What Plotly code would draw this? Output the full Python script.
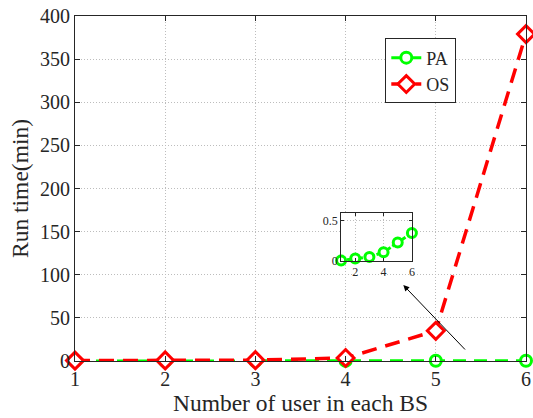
import plotly.graph_objects as go

users = [1, 2, 3, 4, 5, 6]
pa_time = [0.005, 0.03, 0.05, 0.11, 0.23, 0.35]
os_time = [0.5, 0.7, 1.0, 3.5, 35, 379]

x_ticks = [1, 2, 3, 4, 5, 6]
y_ticks = [0, 50, 100, 150, 200, 250, 300, 350, 400]
inset_x_ticks = [2, 4, 6]
inset_y_ticks = [0, 0.5]

FONT = "Liberation Serif"
GREEN = "#00ff00"
RED = "#ff0000"
AX = "#262626"
GRID = "#bdbdbd"

fig = go.Figure()
fig.add_trace(go.Scatter(
    x=users, y=pa_time, name="PA", mode="lines+markers",
    line=dict(color=GREEN, width=3, dash="13px,8px"),
    marker=dict(symbol="circle", size=11, color="white", line=dict(width=3, color=GREEN)),
    cliponaxis=False,
))
fig.add_trace(go.Scatter(
    x=users, y=os_time, name="OS", mode="lines+markers",
    line=dict(color=RED, width=3.5, dash="15px,9px"),
    marker=dict(symbol="diamond", size=13, color="white", line=dict(width=3, color=RED)),
    cliponaxis=False,
))
# inset
fig.add_trace(go.Scatter(
    x=users, y=pa_time, mode="lines+markers", showlegend=False,
    xaxis="x2", yaxis="y2",
    line=dict(color=GREEN, width=3, dash="4px,2px"),
    marker=dict(symbol="circle", size=9, color="white", line=dict(width=3, color=GREEN)),
    cliponaxis=False,
))

axis_common = dict(
    showline=True, linecolor=AX, linewidth=1, mirror="ticks",
    ticks="inside", ticklen=5, tickcolor=AX,
    showgrid=True, gridcolor=GRID, griddash="1px,2px", gridwidth=1,
    zeroline=False, automargin=False,
    tickfont=dict(family=FONT, size=20, color=AX),
)
inset_common = dict(
    showline=True, linecolor=AX, linewidth=1, mirror="ticks",
    ticks="inside", ticklen=3, tickcolor=AX,
    showgrid=True, gridcolor=GRID, griddash="1px,2px", zeroline=False,
    automargin=False,
    tickfont=dict(family=FONT, size=12, color=AX),
)

fig.update_layout(
    width=533, height=418,
    margin=dict(l=75, r=7, t=16, b=57),
    paper_bgcolor="white", plot_bgcolor="white",
    font=dict(family=FONT, color=AX),
    xaxis=dict(range=[1, 6], tickvals=x_ticks, domain=[0, 1],
               title=dict(text="Number of user in each BS", font=dict(family=FONT, size=23.5), standoff=4),
               **axis_common),
    yaxis=dict(range=[0, 400], tickvals=y_ticks, domain=[0, 1],
               title=dict(text="Run time(min)", font=dict(family=FONT, size=23.5), standoff=4),
               **axis_common),
    xaxis2=dict(range=[1, 6], tickvals=inset_x_ticks, domain=[0.59, 0.747], anchor="y2",
                **inset_common),
    yaxis2=dict(range=[0, 0.6], tickvals=inset_y_ticks, domain=[0.29, 0.429], anchor="x2",
                **inset_common),
    legend=dict(x=0.688, y=0.935, xanchor="left", yanchor="top",
                bgcolor="white", bordercolor=AX, borderwidth=1,
                font=dict(family=FONT, size=18, color=AX),
                itemwidth=30, tracegroupgap=0),
    showlegend=True,
)

fig.add_annotation(
    x=4.64, y=88, ax=5.34, ay=11.6, xref="x", yref="y", axref="x", ayref="y",
    showarrow=True, arrowhead=2, arrowsize=1.2, arrowwidth=1, arrowcolor="black", text="",
)

fig.write_html("out.html", config={"displayModeBar": False},
               post_script="document.body.style.margin='0';")
